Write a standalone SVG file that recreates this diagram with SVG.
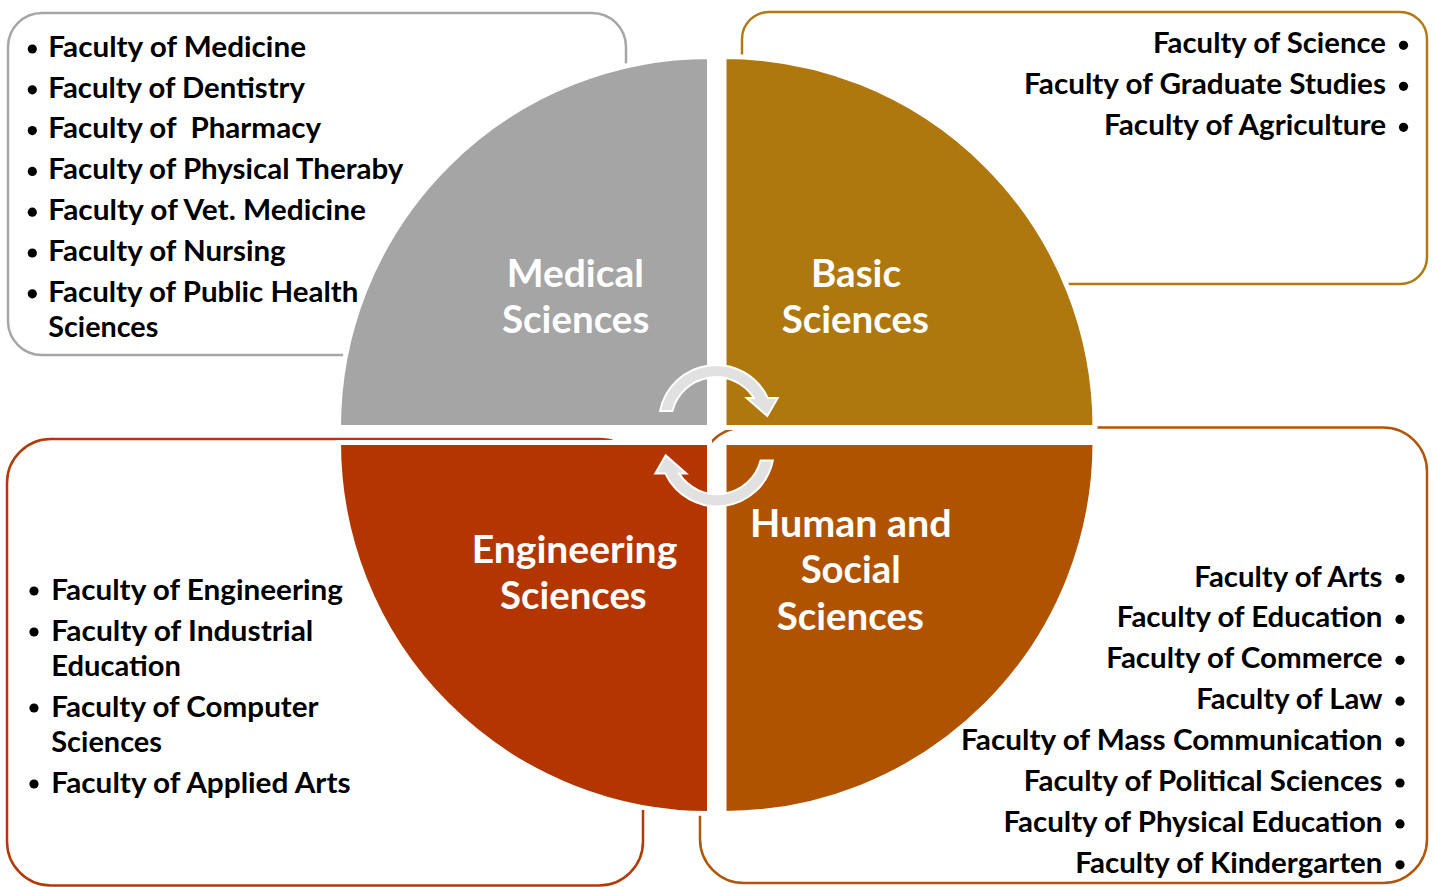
<svg xmlns="http://www.w3.org/2000/svg" width="1437" height="887" viewBox="0 0 1437 887">
<style>
.box{fill:#fff;stroke-width:2.5}
.list{font-family:Lato,"Open Sans","Liberation Sans",sans-serif;font-weight:700;font-size:28px;fill:#000}
.label{font-family:Lato,"Open Sans","Liberation Sans",sans-serif;font-weight:700;font-size:38.5px;fill:#fff}
.quad{stroke:#fff;stroke-width:5}
.arrow{fill:#e1e1e1;stroke:#fff;stroke-width:2}
.dot{fill:#000}
</style>
<rect width="1437" height="887" fill="#fff"/>

<g id="box-medical">
<rect class="box" x="8" y="13" width="618" height="342" rx="34" stroke="#a6a6a6"/>
<g class="dot"><circle cx="32.3" cy="49" r="4.6"/><circle cx="32.3" cy="89.8" r="4.6"/><circle cx="32.3" cy="130.6" r="4.6"/><circle cx="32.3" cy="171.4" r="4.6"/><circle cx="32.3" cy="212.2" r="4.6"/><circle cx="32.3" cy="253" r="4.6"/><circle cx="32.3" cy="293.8" r="4.6"/></g>
<text class="list" x="48.3" y="56.7" textLength="257.7" lengthAdjust="spacingAndGlyphs">Faculty of Medicine</text>
<text class="list" x="48.3" y="97.5" textLength="256.7" lengthAdjust="spacingAndGlyphs">Faculty of Dentistry</text>
<text class="list" x="48.3" y="138.3" textLength="272.7" lengthAdjust="spacingAndGlyphs" xml:space="preserve">Faculty of  Pharmacy</text>
<text class="list" x="48.3" y="179.2" textLength="355" lengthAdjust="spacingAndGlyphs">Faculty of Physical Theraby</text>
<text class="list" x="48.3" y="220" textLength="317.7" lengthAdjust="spacingAndGlyphs">Faculty of Vet. Medicine</text>
<text class="list" x="48.3" y="260.8" textLength="237.4" lengthAdjust="spacingAndGlyphs">Faculty of Nursing</text>
<text class="list" x="48.3" y="301.7" textLength="310" lengthAdjust="spacingAndGlyphs">Faculty of Public Health</text>
<text class="list" x="48.3" y="336.5" textLength="110" lengthAdjust="spacingAndGlyphs">Sciences</text>
</g>

<g id="box-basic">
<rect class="box" x="742" y="12" width="685" height="272" rx="27" stroke="#b07b14"/>
<g class="dot"><circle cx="1403.5" cy="45.3" r="4.6"/><circle cx="1403.5" cy="86.3" r="4.6"/><circle cx="1403.5" cy="127.3" r="4.6"/></g>
<text class="list" x="1153" y="53.3" textLength="233" lengthAdjust="spacingAndGlyphs">Faculty of Science</text>
<text class="list" x="1024" y="94.3" textLength="362" lengthAdjust="spacingAndGlyphs">Faculty of Graduate Studies</text>
<text class="list" x="1104" y="135.3" textLength="282" lengthAdjust="spacingAndGlyphs">Faculty of Agriculture</text>
</g>

<g id="box-engineering">
<rect class="box" x="7" y="439" width="636" height="446.5" rx="44" stroke="#b33a08"/>
<g class="dot"><circle cx="34" cy="591" r="4.6"/><circle cx="34" cy="632" r="4.6"/><circle cx="34" cy="708" r="4.6"/><circle cx="34" cy="784" r="4.6"/></g>
<text class="list" x="51.3" y="599.5" textLength="291.7" lengthAdjust="spacingAndGlyphs">Faculty of Engineering</text>
<text class="list" x="51.3" y="640.5" textLength="262" lengthAdjust="spacingAndGlyphs">Faculty of Industrial</text>
<text class="list" x="51.3" y="675.5" textLength="129.7" lengthAdjust="spacingAndGlyphs">Education</text>
<text class="list" x="51.3" y="716.5" textLength="267.3" lengthAdjust="spacingAndGlyphs">Faculty of Computer</text>
<text class="list" x="51.3" y="751.5" textLength="110.7" lengthAdjust="spacingAndGlyphs">Sciences</text>
<text class="list" x="51.3" y="792.5" textLength="299.3" lengthAdjust="spacingAndGlyphs">Faculty of Applied Arts</text>
</g>

<g id="box-human">
<rect class="box" x="700" y="427.5" width="727" height="455.5" rx="44" stroke="#b0560a"/>
<g class="dot"><circle cx="1400" cy="578.5" r="4.6"/><circle cx="1400" cy="619.4" r="4.6"/><circle cx="1400" cy="660.3" r="4.6"/><circle cx="1400" cy="701.2" r="4.6"/><circle cx="1400" cy="742.1" r="4.6"/><circle cx="1400" cy="783" r="4.6"/><circle cx="1400" cy="823.9" r="4.6"/><circle cx="1400" cy="864.8" r="4.6"/></g>
<text class="list" x="1194.3" y="586.5" textLength="188.2" lengthAdjust="spacingAndGlyphs">Faculty of Arts</text>
<text class="list" x="1116.7" y="627.4" textLength="265.8" lengthAdjust="spacingAndGlyphs">Faculty of Education</text>
<text class="list" x="1106.2" y="668.3" textLength="276.3" lengthAdjust="spacingAndGlyphs">Faculty of Commerce</text>
<text class="list" x="1196.2" y="709.2" textLength="186.3" lengthAdjust="spacingAndGlyphs">Faculty of Law</text>
<text class="list" x="961" y="750.1" textLength="421.5" lengthAdjust="spacingAndGlyphs">Faculty of Mass Communication</text>
<text class="list" x="1023.8" y="791" textLength="358.7" lengthAdjust="spacingAndGlyphs">Faculty of Political Sciences</text>
<text class="list" x="1003.4" y="831.9" textLength="379.1" lengthAdjust="spacingAndGlyphs">Faculty of Physical Education</text>
<text class="list" x="1075.3" y="872.8" textLength="307.2" lengthAdjust="spacingAndGlyphs">Faculty of Kindergarten</text>
</g>

<g id="node-medical">
<path class="quad" fill="#a5a5a5" d="M709.5 427.5H338.5A371 371 0 0 1 709.5 56.5Z"/>
<text class="label" x="506.7" y="286.7" textLength="137.3" lengthAdjust="spacingAndGlyphs">Medical</text>
<text class="label" x="502" y="332.7" textLength="147.3" lengthAdjust="spacingAndGlyphs">Sciences</text>
</g>
<g id="node-basic">
<path class="quad" fill="#ae780f" d="M724 427.5V56.5A371 371 0 0 1 1095 427.5Z"/>
<text class="label" x="811" y="286.7" textLength="90" lengthAdjust="spacingAndGlyphs">Basic</text>
<text class="label" x="781.7" y="332.7" textLength="147.3" lengthAdjust="spacingAndGlyphs">Sciences</text>
</g>
<g id="node-engineering">
<path class="quad" fill="#b33600" d="M709.5 442.5V813.5A371 371 0 0 1 338.5 442.5Z"/>
<text class="label" x="471.7" y="563.3" textLength="205.6" lengthAdjust="spacingAndGlyphs">Engineering</text>
<text class="label" x="500" y="609.3" textLength="146.7" lengthAdjust="spacingAndGlyphs">Sciences</text>
</g>
<g id="node-human">
<path class="quad" fill="#b05300" d="M724 442.5H1095A371 371 0 0 1 724 813.5Z"/>
<text class="label" x="750" y="536.7" textLength="201.7" lengthAdjust="spacingAndGlyphs">Human and</text>
<text class="label" x="800.7" y="583.3" textLength="100" lengthAdjust="spacingAndGlyphs">Social</text>
<text class="label" x="776.7" y="630" textLength="147.3" lengthAdjust="spacingAndGlyphs">Sciences</text>
</g>

<g id="connectors">
<path id="arrow-top" class="arrow" d="M660.1 411A57 57 0 0 1 767.7 398L777.7 398L767.3 416L746.7 398L754 398A45 45 0 0 0 672.4 411Z"/>
<path id="arrow-bottom" class="arrow" transform="rotate(180 716.5 435.7)" d="M660.1 411A57 57 0 0 1 767.7 398L777.7 398L767.3 416L746.7 398L754 398A45 45 0 0 0 672.4 411Z"/>
</g>
</svg>
